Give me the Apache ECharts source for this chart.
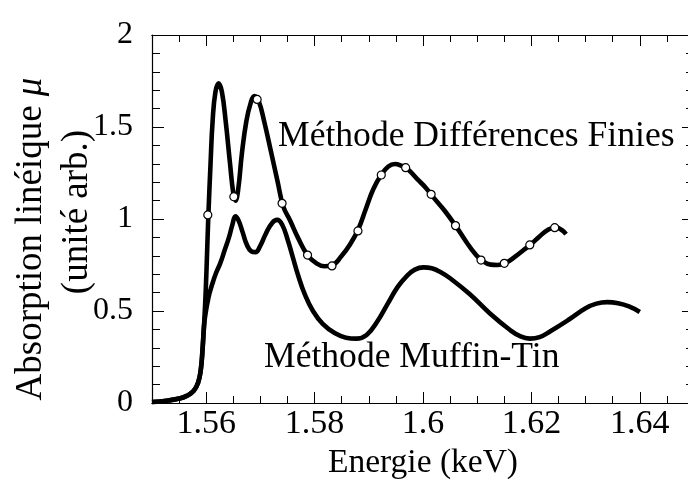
<!DOCTYPE html>
<html>
<head>
<meta charset="utf-8">
<script src="https://cdn.jsdelivr.net/npm/echarts@6/dist/echarts.min.js"></script>
<style>
  html, body { margin: 0; padding: 0; background: #fff; }
  #chart { width: 688px; height: 480px; }
</style>
</head>
<body>
<div id="chart"></div>
<script>
// energies in keV, absorption in arbitrary units
var edgeE  = [1.5500, 1.5530, 1.5550, 1.5565, 1.5577, 1.5585, 1.5590, 1.5593, 1.5596];
var edgeMu = [0.005, 0.014, 0.024, 0.040, 0.066, 0.11, 0.18, 0.28, 0.42];

var dfE  = [1.5599, 1.5602, 1.5604, 1.5608, 1.5612, 1.5617, 1.5623, 1.5629, 1.5636, 1.5644, 1.5650, 1.5654,
            1.5659, 1.5666, 1.5674, 1.5682, 1.5689, 1.5697, 1.5707, 1.5720, 1.5732, 1.5742, 1.5755, 1.5769,
            1.5787, 1.5803, 1.5818, 1.5832, 1.5850, 1.5865, 1.5880, 1.5894, 1.5908, 1.5923, 1.5936, 1.5948,
            1.5960, 1.5972, 1.5990, 1.6005, 1.6020, 1.6040, 1.6060, 1.6080, 1.6095, 1.6110, 1.6125, 1.6138,
            1.6152, 1.6170, 1.6185, 1.6200, 1.6215, 1.6230, 1.6245, 1.6256, 1.6264];
var dfMu = [0.60, 0.85, 1.02, 1.30, 1.54, 1.69, 1.737, 1.69, 1.53, 1.30, 1.14, 1.10,
            1.16, 1.36, 1.53, 1.63, 1.668, 1.64, 1.53, 1.36, 1.20, 1.07, 0.99, 0.90,
            0.804, 0.76, 0.743, 0.748, 0.80, 0.86, 0.94, 1.05, 1.16, 1.24, 1.285, 1.299,
            1.29, 1.27, 1.215, 1.17, 1.115, 1.045, 0.964, 0.875, 0.815, 0.772, 0.752, 0.750,
            0.760, 0.795, 0.83, 0.865, 0.905, 0.94, 0.955, 0.94, 0.918];

var mtE  = [1.5599, 1.5602, 1.5606, 1.5611, 1.5618, 1.5626, 1.5634, 1.5642, 1.5648, 1.5654, 1.5660, 1.5667,
            1.5675, 1.5683, 1.5691, 1.5699, 1.5710, 1.5722, 1.5731, 1.5740, 1.5750, 1.5760, 1.5770, 1.5782,
            1.5797, 1.5815, 1.5837, 1.5858, 1.5877, 1.5896, 1.5915, 1.5935, 1.5953, 1.5970, 1.5985, 1.6001,
            1.6016, 1.6032, 1.6050, 1.6086, 1.6123, 1.6160, 1.6180, 1.6197, 1.6215, 1.6235, 1.6270, 1.6300,
            1.6320, 1.6340, 1.6360, 1.6380, 1.6400];
var mtMu = [0.49, 0.54, 0.595, 0.645, 0.705, 0.76, 0.83, 0.90, 0.965, 1.015, 0.99, 0.93,
            0.86, 0.825, 0.82, 0.85, 0.92, 0.98, 0.995, 0.97, 0.89, 0.79, 0.69, 0.59,
            0.50, 0.43, 0.38, 0.355, 0.35, 0.37, 0.44, 0.54, 0.63, 0.69, 0.725, 0.737,
            0.732, 0.712, 0.678, 0.592, 0.488, 0.398, 0.362, 0.35, 0.358, 0.39, 0.455, 0.515,
            0.54, 0.548, 0.542, 0.525, 0.495];

// computed points of the finite difference method (open circles)
var markE  = [1.5603, 1.5651, 1.5694, 1.5740, 1.5787, 1.5832, 1.5880, 1.5923, 1.5968, 1.6015, 1.6060, 1.6107, 1.6150, 1.6197, 1.6243];
var markMu = [1.022, 1.121, 1.650, 1.085, 0.804, 0.745, 0.935, 1.239, 1.279, 1.134, 0.964, 0.777, 0.759, 0.859, 0.953];

var xMajor = [1.56, 1.58, 1.60, 1.62, 1.64];
var xMinor = [1.555, 1.565, 1.57, 1.575, 1.585, 1.59, 1.595, 1.605, 1.61, 1.615, 1.625, 1.63, 1.635, 1.645];

var labelDF = 'Méthode Différences Finies';
var labelMT = 'Méthode Muffin-Tin';
var yTitle1 = 'Absorption linéique ';
var yTitle2 = '(unité arb.)';

var font = '"Liberation Serif", "Times New Roman", serif';

function pairs(xs, ys) {
    var out = [];
    for (var i = 0; i < xs.length; i++) out.push([xs[i], ys[i]]);
    return out;
}

var edge = pairs(edgeE, edgeMu);
var dfData = edge.concat(pairs(dfE, dfMu));
var mtData = edge.concat(pairs(mtE, mtMu));

function xAxisDef(pos, ticks, len, withLabels) {
    var ax = {
        type: 'value', position: pos, min: 1.55, max: 1.65,
        axisLine: { show: true, lineStyle: { color: '#000', width: 1.2 } },
        axisTick: { show: true, inside: true, length: len, customValues: ticks, lineStyle: { color: '#000', width: 1 } },
        axisLabel: { show: false },
        splitLine: { show: false }
    };
    if (withLabels) {
        ax.axisLabel = { show: true, customValues: xMajor, color: '#000', fontFamily: font, fontSize: 34, margin: 4 };
        ax.name = 'Energie (keV)';
        ax.nameLocation = 'middle';
        ax.nameGap = 34;
        ax.nameTextStyle = { color: '#000', fontFamily: font, fontSize: 33.5 };
    }
    return ax;
}

function yAxisDef(pos, withLabels) {
    return {
        type: 'value', position: pos, min: 0, max: 2, interval: 0.5,
        axisLine: { show: true, lineStyle: { color: '#000', width: 1.2 } },
        axisTick: { show: true, inside: true, length: 12, lineStyle: { color: '#000', width: 1 } },
        minorTick: { show: true, splitNumber: 5, length: 8, lineStyle: { color: '#000', width: 1 } },
        axisLabel: { show: withLabels, color: '#000', fontFamily: font, fontSize: 32, margin: 19, padding: [0, 0, 7, 0] },
        splitLine: { show: false }
    };
}

var myChart = echarts.init(document.getElementById('chart'), null, { renderer: 'canvas' });

var option = {
    backgroundColor: '#fff',
    animation: false,
    grid: { left: 152, top: 35, width: 542, height: 368, containLabel: false, outerBoundsMode: 'none' },
    xAxis: [
        xAxisDef('bottom', xMinor, 7, false),
        xAxisDef('bottom', xMajor, 11, true),
        xAxisDef('top', xMinor, 7, false),
        xAxisDef('top', xMajor, 11, false)
    ],
    yAxis: [yAxisDef('left', true), yAxisDef('right', false)],
    series: [
        {
            name: labelMT, type: 'line', xAxisIndex: 0, yAxisIndex: 0,
            data: mtData, showSymbol: false, smooth: 0.45,
            lineStyle: { color: '#000', width: 4.6 }
        },
        {
            name: labelDF, type: 'line', xAxisIndex: 0, yAxisIndex: 0,
            data: dfData, showSymbol: false, smooth: 0.45,
            lineStyle: { color: '#000', width: 4.6 }
        },
        {
            type: 'scatter', xAxisIndex: 0, yAxisIndex: 0, z: 5,
            data: pairs(markE, markMu), symbol: 'circle', symbolSize: 8,
            itemStyle: { color: '#fff', borderColor: '#000', borderWidth: 1.2, opacity: 1 }
        }
    ],
    graphic: [
        { type: 'text', left: 278, top: 119, style: { text: labelDF, fill: '#000', font: '35.6px ' + font } },
        { type: 'text', left: 264, top: 340, style: { text: labelMT, fill: '#000', font: '35.6px ' + font } },
        {
            type: 'text', x: 31, y: 239, rotation: Math.PI / 2,
            style: {
                text: '{n|' + yTitle1 + '}{m|μ}', align: 'center', verticalAlign: 'middle',
                rich: {
                    n: { fontFamily: font, fontSize: 37, fill: '#000' },
                    m: { fontFamily: font, fontSize: 37, fontStyle: 'italic', fill: '#000' }
                }
            }
        },
        {
            type: 'text', x: 77, y: 212, rotation: Math.PI / 2,
            style: { text: yTitle2, align: 'center', verticalAlign: 'middle', fill: '#000', font: '37px ' + font }
        }
    ]
};

myChart.setOption(option);
</script>
</body>
</html>
